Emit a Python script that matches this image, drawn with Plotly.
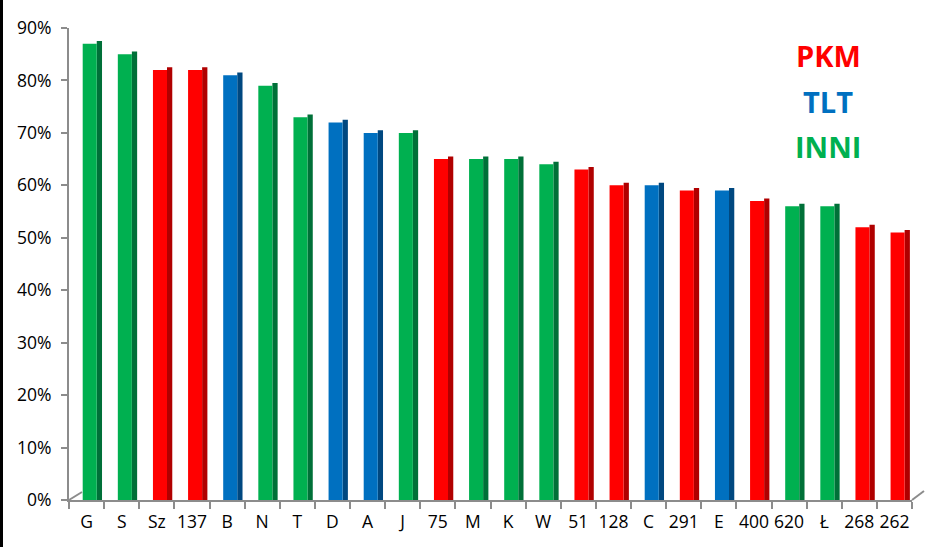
import plotly.graph_objects as go

categories = ["G", "S", "Sz", "137", "B", "N", "T", "D", "A", "J", "75", "M", "K", "W",
              "51", "128", "C", "291", "E", "400", "620", "Ł", "268", "262"]
values = [0.87, 0.85, 0.82, 0.82, 0.81, 0.79, 0.73, 0.72, 0.70, 0.70, 0.65, 0.65, 0.65, 0.64,
          0.63, 0.60, 0.60, 0.59, 0.59, 0.57, 0.56, 0.56, 0.52, 0.51]
groups = ["INNI", "INNI", "PKM", "PKM", "TLT", "INNI", "INNI", "TLT", "TLT", "INNI", "PKM", "INNI",
          "INNI", "INNI", "PKM", "PKM", "TLT", "PKM", "TLT", "PKM", "INNI", "INNI", "PKM", "PKM"]
legend_labels = ["PKM", "TLT", "INNI"]

front_colors = {"PKM": "#FF0000", "TLT": "#0070C0", "INNI": "#00B050"}
side_colors = {"PKM": "#B00000", "TLT": "#004880", "INNI": "#007038"}

fig = go.Figure()
# side faces (3D look)
fig.add_trace(go.Bar(
    x=categories, y=[v + 0.005 for v in values],
    marker=dict(color=[side_colors[g] for g in groups], line=dict(width=0)),
    width=0.15, offset=0.29, hoverinfo="skip", showlegend=False,
))
# front faces
fig.add_trace(go.Bar(
    x=categories, y=values,
    marker=dict(color=[front_colors[g] for g in groups], line=dict(width=0)),
    width=0.40, offset=-0.11, showlegend=False,
))

W, H = 945, 547
ml, mr, mt, mb = 69, 33, 28, 47
pw, ph = W - ml - mr, H - mt - mb
FONT = "Open Sans, Lato, sans-serif"

fig.update_layout(
    width=W, height=H,
    margin=dict(l=ml, r=mr, t=mt, b=mb, autoexpand=False),
    barmode="overlay",
    paper_bgcolor="white", plot_bgcolor="white",
    font=dict(family=FONT, size=17, color="#000000"),
    xaxis=dict(
        type="category", tickson="boundaries", ticks="outside", ticklen=7, tickangle=0,
        tickcolor="#8C8C8C", tickwidth=2, showline=True, linecolor="#8C8C8C", linewidth=2,
        showgrid=False, tickfont=dict(size=17.5), range=[-0.5, len(categories) - 0.5],
        automargin=False, ticklabelstandoff=5,
    ),
    yaxis=dict(
        range=[0, 0.9], dtick=0.1, tickformat=".0%", ticks="outside", ticklen=6,
        tickcolor="#8C8C8C", tickwidth=2, showline=True, linecolor="#8C8C8C", linewidth=2,
        showgrid=False, zeroline=False, tickfont=dict(size=17.5), automargin=False,
        ticklabelstandoff=6,
    ),
    shapes=[
        dict(type="line", xref="paper", yref="paper", x0=0, y0=0, x1=13 / pw, y1=8 / ph,
             line=dict(color="#8C8C8C", width=2)),
        dict(type="line", xref="paper", yref="paper", x0=1, y0=0, x1=1 + 12 / pw, y1=9 / ph,
             line=dict(color="#8C8C8C", width=2)),
        dict(type="line", xref="paper", yref="paper", x0=-(ml - 1.5) / pw, x1=-(ml - 1.5) / pw,
             y0=-mb / ph, y1=1 + mt / ph, line=dict(color="#000000", width=3)),
    ],
)

for i, lab in enumerate(legend_labels):
    fig.add_annotation(
        xref="paper", yref="paper", x=(828 - ml) / pw, y=1 - (56 - mt + i * 45) / ph,
        text=f"<b>{lab}</b>", showarrow=False, xanchor="center", yanchor="middle",
        font=dict(family=FONT, size=29, color=front_colors[lab]),
    )

fig.write_html("out.html", config={"displayModeBar": False},
               post_script="document.body.style.margin='0';")
